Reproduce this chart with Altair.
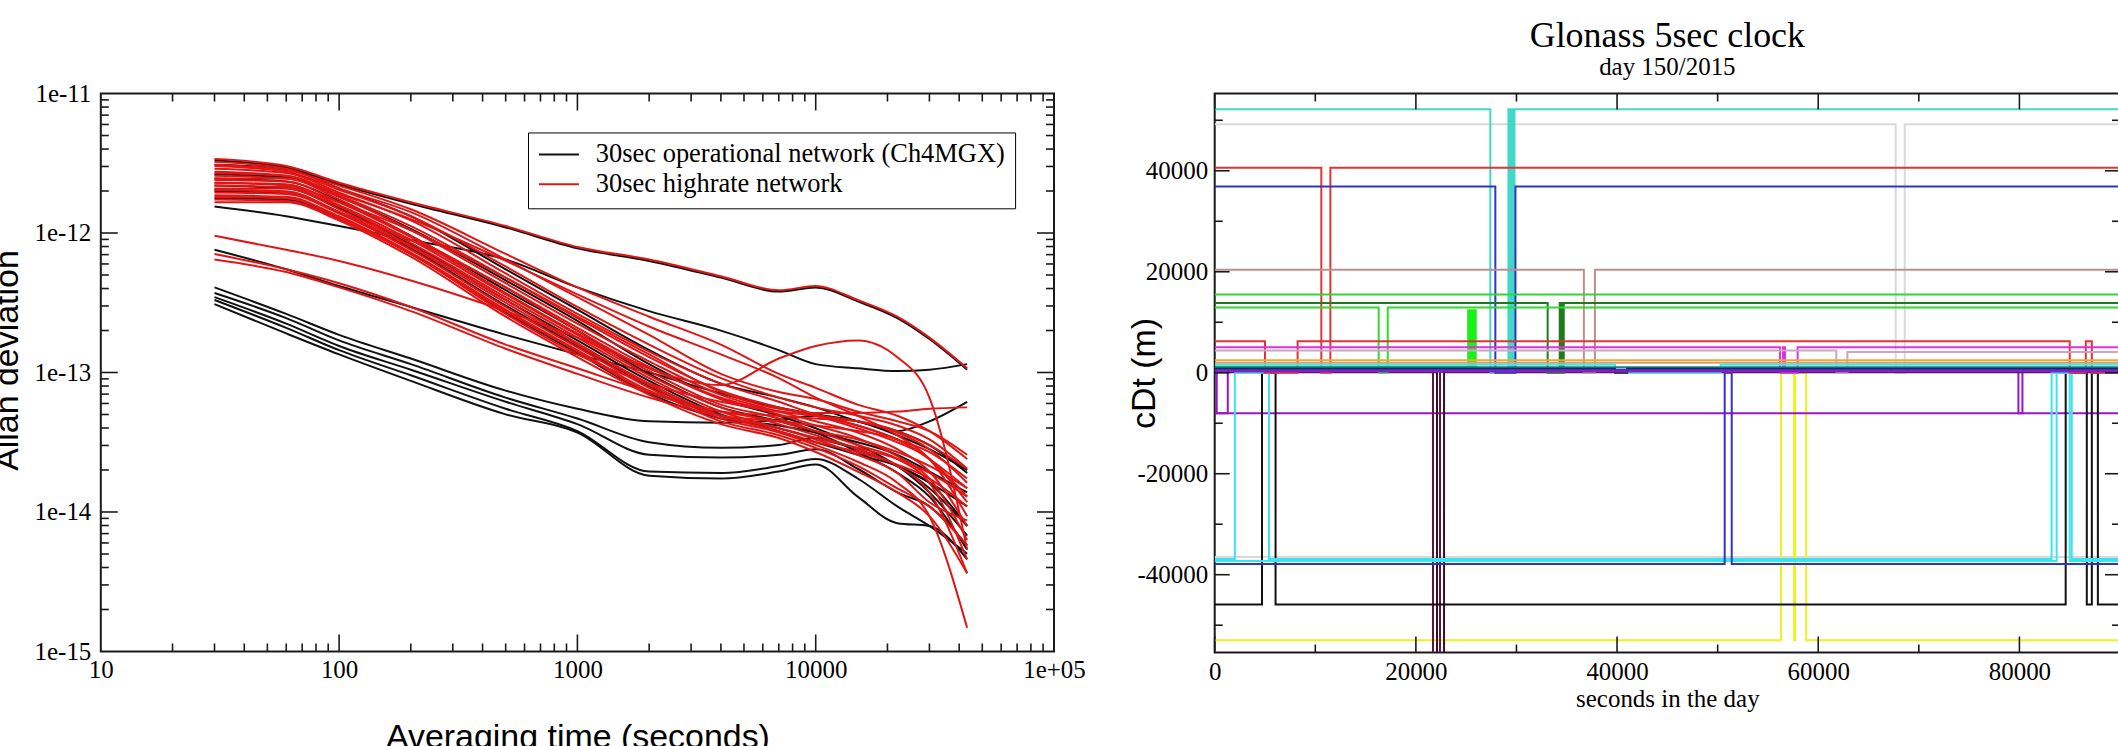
import altair as alt
import pandas as pd

SERIF = "Liberation Serif"
SANS = "Liberation Sans"

# ---------------- Left panel: Allan deviation curves (log10 of ADEV) ----------------
TAU = [30, 60, 100, 200, 500, 1000, 2000, 4000, 7000, 10000, 15000, 22000, 30000, 43200]

OPERATIONAL_LOG10 = [
    [-12.39, -12.58, -12.73, -12.90, -13.13, -13.26, -13.35, -13.36, -13.34, -13.31, -13.35, -13.42, -13.35, -13.21],
    [-12.43, -12.61, -12.77, -12.94, -13.18, -13.33, -13.50, -13.54, -13.52, -13.47, -13.55, -13.67, -13.79, -14.10],
    [-12.46, -12.65, -12.81, -12.98, -13.21, -13.37, -13.59, -13.61, -13.59, -13.55, -13.69, -13.86, -13.96, -14.24],
    [-12.48, -12.68, -12.84, -13.02, -13.26, -13.42, -13.71, -13.72, -13.67, -13.62, -13.76, -13.96, -14.10, -14.30],
    [-12.51, -12.72, -12.87, -13.06, -13.30, -13.43, -13.74, -13.76, -13.71, -13.66, -13.89, -14.08, -14.10, -14.34],
    [-12.12, -12.26, -12.38, -12.53, -12.73, -12.87, -13.00, -13.15, -13.25, -13.30, -13.35, -13.45, -13.55, -13.70],
    [-11.81, -11.88, -11.95, -12.05, -12.19, -12.39, -12.56, -12.70, -12.84, -12.94, -12.97, -12.99, -12.98, -12.94],
    [-11.51, -11.54, -11.68, -11.88, -12.26, -12.55, -12.84, -13.08, -13.18, -13.25, -13.35, -13.42, -13.52, -13.72],
    [-11.58, -11.60, -11.74, -11.97, -12.34, -12.63, -12.94, -13.19, -13.31, -13.40, -13.52, -13.67, -13.86, -14.17],
    [-11.61, -11.63, -11.77, -12.02, -12.41, -12.70, -13.01, -13.25, -13.35, -13.43, -13.57, -13.72, -13.89, -14.27],
    [-11.66, -11.68, -11.82, -12.08, -12.48, -12.77, -13.06, -13.30, -13.42, -13.50, -13.59, -13.67, -13.79, -13.96],
    [-11.70, -11.71, -11.85, -12.11, -12.52, -12.81, -13.10, -13.31, -13.40, -13.47, -13.55, -13.67, -13.83, -14.10],
    [-11.75, -11.76, -11.89, -12.15, -12.57, -12.86, -13.15, -13.33, -13.38, -13.43, -13.50, -13.59, -13.71, -13.86],
    [-11.48, -11.53, -11.65, -11.79, -11.96, -12.11, -12.20, -12.32, -12.42, -12.39, -12.49, -12.61, -12.76, -12.98],
]

HIGHRATE_LOG10 = [
    [-11.49, -11.54, -11.68, -11.85, -12.19, -12.46, -12.73, -13.01, -13.14, -13.19, -13.28, -13.35, -13.42, -13.59],
    [-11.52, -11.56, -11.69, -11.88, -12.24, -12.53, -12.80, -13.04, -13.18, -13.25, -13.31, -13.38, -13.48, -13.69],
    [-11.54, -11.57, -11.71, -11.91, -12.29, -12.58, -12.85, -13.08, -13.21, -13.30, -13.35, -13.43, -13.55, -13.79],
    [-11.57, -11.59, -11.73, -11.95, -12.32, -12.61, -12.89, -13.13, -13.25, -13.31, -13.40, -13.50, -13.62, -13.93],
    [-11.59, -11.61, -11.74, -11.98, -12.36, -12.65, -12.92, -13.16, -13.28, -13.35, -13.43, -13.55, -13.71, -14.10],
    [-11.61, -11.61, -11.76, -12.02, -12.39, -12.68, -12.96, -13.19, -13.30, -13.38, -13.47, -13.60, -13.76, -14.20],
    [-11.62, -11.63, -11.78, -12.03, -12.43, -12.72, -12.99, -13.23, -13.33, -13.42, -13.52, -13.62, -13.79, -14.34],
    [-11.64, -11.65, -11.80, -12.05, -12.44, -12.73, -13.02, -13.25, -13.37, -13.45, -13.55, -13.67, -13.86, -14.44],
    [-11.66, -11.67, -11.81, -12.07, -12.46, -12.75, -13.04, -13.28, -13.40, -13.48, -13.59, -13.72, -13.93, -14.06],
    [-11.68, -11.68, -11.83, -12.09, -12.48, -12.79, -13.08, -13.31, -13.42, -13.50, -13.57, -13.66, -13.76, -13.96],
    [-11.69, -11.70, -11.85, -12.10, -12.50, -12.80, -13.09, -13.33, -13.43, -13.52, -13.64, -13.79, -14.03, -14.83],
    [-11.71, -11.72, -11.86, -12.12, -12.53, -12.82, -13.11, -13.35, -13.45, -13.54, -13.67, -13.83, -13.96, -14.24],
    [-11.73, -11.74, -11.88, -12.14, -12.55, -12.84, -13.13, -13.31, -13.40, -13.47, -13.54, -13.62, -13.72, -13.89],
    [-11.74, -11.75, -11.89, -12.15, -12.56, -12.85, -13.14, -13.28, -13.35, -13.42, -13.48, -13.57, -13.67, -13.83],
    [-11.76, -11.77, -11.90, -12.15, -12.58, -12.87, -13.08, -13.21, -13.28, -13.31, -13.38, -13.48, -13.57, -13.76],
    [-11.51, -11.55, -11.66, -11.83, -12.15, -12.39, -12.60, -12.80, -13.01, -13.11, -13.23, -13.31, -13.42, -13.62],
    [-11.56, -11.59, -11.72, -11.90, -12.20, -12.44, -12.67, -12.87, -13.04, -13.18, -13.31, -13.45, -13.62, -14.03],
    [-11.78, -11.78, -11.91, -12.17, -12.60, -12.89, -13.16, -13.37, -13.47, -13.57, -13.71, -13.86, -14.03, -14.44],
    [-11.47, -11.52, -11.64, -11.78, -11.95, -12.10, -12.19, -12.31, -12.41, -12.38, -12.48, -12.60, -12.75, -12.97],
    [-11.69, -11.71, -11.85, -12.05, -12.39, -12.70, -12.97, -13.09, -12.90, -12.81, -12.77, -12.89, -13.18, -14.27],
    [-12.15, -12.26, -12.36, -12.53, -12.80, -12.97, -13.14, -13.28, -13.31, -13.33, -13.35, -13.42, -13.52, -13.69],
    [-12.19, -12.28, -12.39, -12.56, -12.83, -13.01, -13.18, -13.31, -13.35, -13.38, -13.42, -13.48, -13.62, -13.83],
    [-12.02, -12.12, -12.20, -12.34, -12.56, -12.75, -12.97, -13.18, -13.28, -13.31, -13.38, -13.48, -13.62, -13.89],
    [-11.64, -11.66, -11.78, -11.98, -12.32, -12.60, -12.87, -13.14, -13.26, -13.29, -13.29, -13.28, -13.26, -13.25],
]

NETWORKS = ["30sec operational network (Ch4MGX)", "30sec highrate network"]
NETWORK_COLORS = ["#111111", "#e01616"]

LEFT_X_LABELS = [10, 100, 1000, 10000, 100000]
LEFT_Y_LABELS = [1e-15, 1e-14, 1e-13, 1e-12, 1e-11]
LEFT_X_MAJOR = [100, 1000, 10000]
LEFT_X_MINOR = [20, 30, 40, 50, 60, 70, 80, 90,
                200, 300, 400, 500, 600, 700, 800, 900,
                2000, 3000, 4000, 5000, 6000, 7000, 8000, 9000,
                20000, 30000, 40000, 50000, 60000, 70000, 80000, 90000]
LEFT_Y_MAJOR = [1e-14, 1e-13, 1e-12]
LEFT_Y_MINOR = [2e-15, 3e-15, 4e-15, 5e-15, 6e-15, 7e-15, 8e-15, 9e-15,
                2e-14, 3e-14, 4e-14, 5e-14, 6e-14, 7e-14, 8e-14, 9e-14,
                2e-13, 3e-13, 4e-13, 5e-13, 6e-13, 7e-13, 8e-13, 9e-13,
                2e-12, 3e-12, 4e-12, 5e-12, 6e-12, 7e-12, 8e-12, 9e-12]

# ---------------- Right panel: Glonass clock steps (seconds, metres) ----------------
RIGHT_X_LABELS = [0, 20000, 40000, 60000, 80000]
RIGHT_Y_LABELS = [-40000, -20000, 0, 20000, 40000]
RIGHT_X_MINOR = [10000, 30000, 50000, 70000, 90000]
RIGHT_Y_MINOR = [-50000, -30000, -10000, 10000, 30000, 50000]

STEP_NAMES = [
    "grey_top", "grey_low", "yellow", "violet_low", "violet_zero", "maroon_a", "maroon_b",
    "black_low", "cyan_low", "cyan_low2", "blue_low", "turquoise_top", "red_top", "blue_top",
    "brown", "green_15", "darkgreen", "green_13", "green_spike", "red_6k", "magenta",
    "pinkgrey", "orange", "tan", "cyan_mid", "teal", "black_mid", "blue_mid", "violet_mid",
]
STEP_COLORS = [
    "#d9d9d9", "#d9d9d9", "#f0f020", "#9418c8", "#9418c8", "#5e1838", "#3e0c26",
    "#111111", "#38e4ee", "#38e4ee", "#3232c8", "#40d8c8", "#e03434", "#3232c8",
    "#bc9090", "#30d830", "#1f7a1f", "#30d830", "#18f018", "#e03434", "#e030e0",
    "#c8a8c0", "#f0a830", "#d4a070", "#40e8f0", "#1a8080", "#222222", "#3232c8", "#9418c8",
]
STEP_T = [
    [0, 67700, 68600, 90000],
    [0, 90000],
    [0, 56300, 57600, 57700, 58800, 90000],
    [0, 90000],
    [0, 200, 1300, 79900, 80300, 90000],
    [0, 21700, 22400, 90000],
    [0, 22100, 22800, 90000],
    [0, 4700, 6050, 84600, 86700, 87200, 87800, 90000],
    [0, 2000, 5400, 83200, 85200, 90000],
    [0, 83700, 85000, 90000],
    [0, 50700, 51400, 90000],
    [0, 27400, 29200, 29350, 29500, 29650, 29800, 90000],
    [0, 10600, 11500, 90000],
    [0, 27900, 29900, 90000],
    [0, 36700, 37800, 90000],
    [0, 90000],
    [0, 33100, 34300, 34500, 34700, 90000],
    [0, 16300, 17200, 90000],
    [0, 25200, 25350, 25500, 25650, 25800, 25950, 26100, 90000],
    [0, 5000, 8240, 85000, 86600, 87200, 90000],
    [0, 56200, 56500, 56700, 57950, 90000],
    [0, 61800, 62900, 90000],
    [0, 90000],
    [0, 90000],
    [0, 39800, 50300, 90000],
    [0, 90000],
    [0, 39800, 41000, 90000],
    [0, 90000],
    [0, 90000],
]
STEP_V = [
    [49200, 0, 49200, 49200],
    [-36500, -36500],
    [-53000, 0, -53000, 0, -53000, -53000],
    [-8000, -8000],
    [300, -8000, 300, -8000, 300, 300],
    [200, -60000, 200, 200],
    [100, -60000, 100, 100],
    [-45900, 0, -45900, 0, -45900, 0, -45900, -45900],
    [-36900, 0, -36900, 0, -36900, -36900],
    [-37300, 0, -37300, -37300],
    [-37900, 0, -37900, -37900],
    [52200, 0, 52200, 0, 52200, 0, 52200, 52200],
    [40600, 0, 40600, 40600],
    [36900, 0, 36900, 36900],
    [20400, 0, 20400, 20400],
    [15500, 15500],
    [13800, 0, 13800, 0, 13800, 13800],
    [12900, 0, 12900, 12900],
    [1200, 12400, 1200, 12400, 1200, 12400, 1200, 1200],
    [6250, 0, 6250, 0, 6250, 0, 0],
    [5060, 0, 5060, 0, 5060, 5060],
    [4390, 0, 4100, 4100],
    [2490, 2490],
    [1960, 1960],
    [1560, 0, 1560, 1560],
    [1100, 1100],
    [800, 0, 800, 800],
    [600, 600],
    [250, 250],
]

# ---------------- Build tables ----------------
def curves_frame(curves, network, prefix):
    rows = []
    for i, curve in enumerate(curves):
        for t, lv in zip(TAU, curve):
            rows.append({"tau": t, "adev": 10 ** lv, "curve": f"{prefix}{i}", "network": network})
    return pd.DataFrame(rows)

op_df = curves_frame(OPERATIONAL_LOG10, NETWORKS[0], "op")
hr_df = curves_frame(HIGHRATE_LOG10, NETWORKS[1], "hr")

step_rows = []
for name, ts, vs in zip(STEP_NAMES, STEP_T, STEP_V):
    for t, v in zip(ts, vs):
        step_rows.append({"t": t, "cdt": v, "series": name})
step_df = pd.DataFrame(step_rows)

W_L, H_L = 955, 559
W_R, H_R = 907, 560
TICK_COLOR = "#1a1a1a"


def tick_rules(vals, channel, scale, axis, length, size):
    d = pd.DataFrame({"v": vals})
    base = alt.Chart(d).mark_rule(color=TICK_COLOR, strokeWidth=1.6)
    if channel == "x":
        enc = alt.X("v:Q", scale=scale, axis=axis)
        return [base.encode(x=enc, y=alt.value(size), y2=alt.value(size - length)),
                base.encode(x=enc, y=alt.value(0), y2=alt.value(length))]
    enc = alt.Y("v:Q", scale=scale, axis=axis)
    return [base.encode(y=enc, x=alt.value(0), x2=alt.value(length)),
            base.encode(y=enc, x=alt.value(size), x2=alt.value(size - length))]


# ---------------- Left chart ----------------
xs_left = alt.Scale(type="log", domain=[10, 100000], nice=False)
ys_left = alt.Scale(type="log", domain=[1e-15, 1e-11], nice=False)
color_left = alt.Scale(domain=NETWORKS, range=NETWORK_COLORS)

left_x_axis = alt.Axis(
    values=LEFT_X_LABELS, labelExpr="datum.value >= 100000 ? '1e+05' : '' + datum.value",
    ticks=False, tickSize=0, domain=False, grid=False, labelFont=SERIF, labelFontSize=25,
    labelColor="black", labelPadding=6, labelFlush=False, labelOverlap=False,
    title="Averaging time (seconds)", titleFont=SANS, titleFontSize=34, titleFontWeight="normal",
    titleColor="black", titleBaseline="alphabetic", titleY=96,
)
left_y_axis = alt.Axis(
    values=LEFT_Y_LABELS, labelExpr="'1e' + round(log(datum.value) / LN10)",
    ticks=False, tickSize=0, domain=False, grid=False, labelFont=SERIF, labelFontSize=25,
    labelColor="black", labelPadding=10, labelFlush=False, labelOverlap=False,
    title="Allan deviation", titleFont=SANS, titleFontSize=34, titleFontWeight="normal",
    titleColor="black", titleBaseline="alphabetic", titleAlign="center", titleAngle=270,
    titleX=-83, titleY=267,
)
legend_left = alt.Legend(
    title=None, orient="none", legendX=428, legendY=39, direction="vertical",
    symbolType="stroke", symbolSize=1600, symbolStrokeWidth=2, labelFont=SERIF,
    labelFontSize=26.5, labelColor="black", labelLimit=0, labelOffset=16, padding=10,
    rowPadding=3, clipHeight=24, strokeColor="black", fillColor="white",
)

def curve_layer(df):
    return alt.Chart(df).mark_line(strokeWidth=2, clip=True, interpolate="monotone").encode(
        x=alt.X("tau:Q", scale=xs_left, axis=left_x_axis),
        y=alt.Y("adev:Q", scale=ys_left, axis=left_y_axis),
        color=alt.Color("network:N", scale=color_left, legend=legend_left),
        detail="curve:N",
    )

left_layers = [curve_layer(op_df), curve_layer(hr_df)]
left_layers += tick_rules(LEFT_X_MAJOR, "x", xs_left, left_x_axis, 17, H_L)
left_layers += tick_rules(LEFT_X_MINOR, "x", xs_left, left_x_axis, 8, H_L)
left_layers += tick_rules(LEFT_Y_MAJOR, "y", ys_left, left_y_axis, 17, W_L)
left_layers += tick_rules(LEFT_Y_MINOR, "y", ys_left, left_y_axis, 8, W_L)
left = alt.layer(*left_layers).properties(width=W_L, height=H_L)

# ---------------- Right chart ----------------
xs_right = alt.Scale(domain=[0, 90000], nice=False, zero=False)
ys_right = alt.Scale(domain=[-55400, 55300], nice=False, zero=False)

right_x_axis = alt.Axis(
    values=RIGHT_X_LABELS, labelExpr="'' + datum.value", ticks=False, tickSize=0, domain=False,
    grid=False, labelFont=SERIF, labelFontSize=25, labelColor="black", labelPadding=7,
    labelFlush=False, labelOverlap=False, title="seconds in the day", titleFont=SERIF,
    titleFontSize=25, titleFontWeight="normal", titleColor="black", titleBaseline="alphabetic",
    titleY=54,
)
right_y_axis = alt.Axis(
    values=RIGHT_Y_LABELS, labelExpr="'' + datum.value", ticks=False, tickSize=0, domain=False,
    grid=False, labelFont=SERIF, labelFontSize=25, labelColor="black", labelPadding=7,
    labelFlush=False, labelOverlap=False, title="cDt (m)", titleFont=SANS, titleFontSize=34,
    titleFontWeight="normal", titleColor="black", titleBaseline="alphabetic", titleAlign="center",
    titleAngle=270, titleX=-60, titleY=280,
)

steps = alt.Chart(step_df).mark_line(strokeWidth=2, clip=True, interpolate="step-after").encode(
    x=alt.X("t:Q", scale=xs_right, axis=right_x_axis),
    y=alt.Y("cdt:Q", scale=ys_right, axis=right_y_axis),
    color=alt.Color("series:N", scale=alt.Scale(domain=STEP_NAMES, range=STEP_COLORS), legend=None),
)

right_layers = [steps]
right_layers += tick_rules(RIGHT_X_LABELS, "x", xs_right, right_x_axis, 16, H_R)
right_layers += tick_rules(RIGHT_X_MINOR, "x", xs_right, right_x_axis, 8, H_R)
right_layers += tick_rules(RIGHT_Y_LABELS, "y", ys_right, right_y_axis, 15, W_R)
right_layers += tick_rules(RIGHT_Y_MINOR, "y", ys_right, right_y_axis, 8, W_R)
right = alt.layer(*right_layers).properties(
    width=W_R, height=H_R,
    title=alt.TitleParams(
        text="Glonass 5sec clock", subtitle="day 150/2015", font=SERIF, fontSize=36,
        fontWeight="normal", color="black", subtitleFont=SERIF, subtitleFontSize=25,
        subtitleColor="black", subtitlePadding=0, anchor="middle", frame="group", offset=12,
    ),
)

chart = alt.hconcat(left, right, spacing=40).resolve_scale(
    x="independent", y="independent", color="independent"
).resolve_axis(x="independent", y="independent").resolve_legend(color="independent").properties(
    padding={"left": -10, "top": 16, "right": -4, "bottom": -10},
    background="white",
).configure_view(stroke="#1a1a1a", strokeWidth=2)

chart.save("out.html", embed_options={"renderer": "svg", "actions": False})
